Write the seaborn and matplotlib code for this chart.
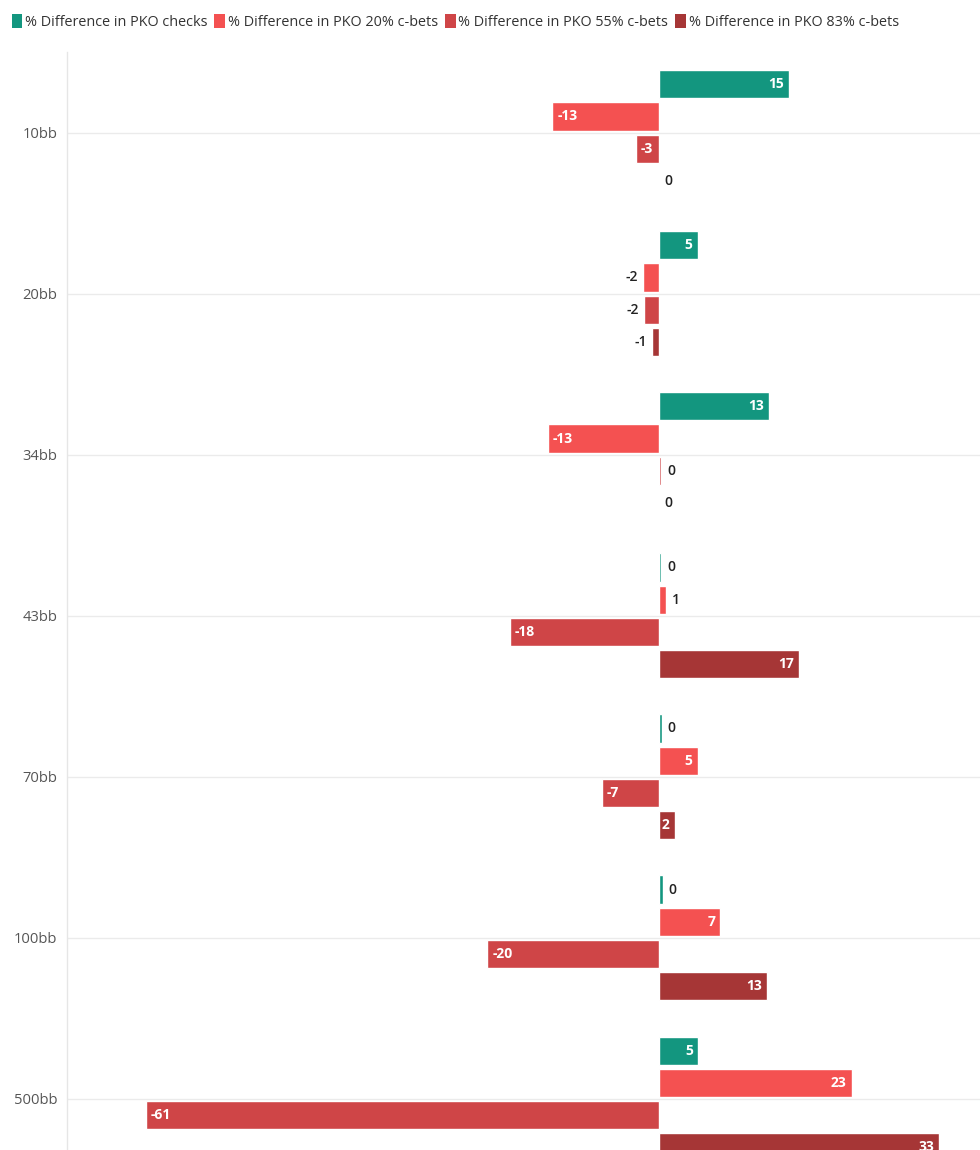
import matplotlib
matplotlib.use("Agg")
import matplotlib.pyplot as plt
from matplotlib.patches import Patch
import seaborn as sns
import pandas as pd

categories = ["10bb", "20bb", "34bb", "43bb", "70bb", "100bb", "500bb"]
series_names = [
    "% Difference in PKO checks",
    "% Difference in PKO 20% c-bets",
    "% Difference in PKO 55% c-bets",
    "% Difference in PKO 83% c-bets",
]
checks = [15.4, 4.6, 13.0, 0.3, 0.35, 0.45, 4.7]
cbet20 = [-12.6, -1.9, -13.1, 0.8, 4.6, 7.3, 22.8]
cbet55 = [-2.7, -1.8, 0.3, -17.6, -6.7, -20.3, -60.7]
cbet83 = [0.0, -0.8, 0.0, 16.6, 1.9, 12.8, 33.2]
colors = ["#13967f", "#f45151", "#cf4547", "#a63636"]

values = [checks, cbet20, cbet55, cbet83]
rows = []
for name, vals in zip(series_names, values):
    for c, v in zip(categories, vals):
        rows.append({"stack": c, "series": name, "value": v})
df = pd.DataFrame(rows)

sns.set_theme(style="white")
plt.rcParams["font.family"] = ["Open Sans", "DejaVu Sans"]

fig = plt.figure(figsize=(9.8, 11.5), dpi=100)
ax = fig.add_axes([67 / 980, 0, 913 / 980, 1098 / 1150])

sns.barplot(data=df, y="stack", x="value", hue="series", order=categories,
            hue_order=series_names, palette=colors, orient="h", width=0.8,
            gap=0.125, saturation=1, legend=False, ax=ax, errorbar=None)

ax.set_xlim(-70, 38)
ax.set_ylim(6.317, -0.5)
ax.set_xlabel("")
ax.set_ylabel("")
ax.set_xticks([])
ax.tick_params(axis="y", length=0, pad=7, labelsize=10.6, labelcolor="#555555")
for sp in ["top", "right", "bottom"]:
    ax.spines[sp].set_visible(False)
ax.spines["left"].set_color("#e6e6e6")
ax.spines["left"].set_linewidth(1)
for i in range(len(categories)):
    ax.axhline(i, color="#ebebeb", lw=1, zorder=0)

# value labels
px_per_unit = 913 / 108
for cont, vals in zip(ax.containers, values):
    for bar, v in zip(cont, vals):
        y = bar.get_y() + bar.get_height() / 2
        lab = f"{round(v):d}"
        if lab == "-0":
            lab = "0"
        bar_px = abs(v) * px_per_unit
        inside = bar_px >= 7 * len(lab) + 4
        off = 5 / px_per_unit
        if inside:
            if v >= 0:
                ax.text(v - off, y, lab, ha="right", va="center", color="white",
                        fontsize=10, fontweight="bold")
            else:
                ax.text(v + off, y, lab, ha="left", va="center", color="white",
                        fontsize=10, fontweight="bold")
        else:
            if v >= 0:
                ax.text(v + 1.2 * off, y, lab, ha="left", va="center", color="#222222",
                        fontsize=10, fontweight="semibold")
            else:
                ax.text(v - off, y, lab, ha="right", va="center", color="#222222",
                        fontsize=10, fontweight="semibold")

handles = [Patch(facecolor=c, edgecolor="none", label=n) for c, n in zip(colors, series_names)]
fig.legend(handles=handles, loc="upper left", bbox_to_anchor=(0.006, 0.993), ncol=4,
           frameon=False, fontsize=10.4, handlelength=0.75, handleheight=1.1,
           handletextpad=0.2, columnspacing=0.45, labelcolor="#333333", borderaxespad=0)

fig.savefig("out.png", dpi=100)
